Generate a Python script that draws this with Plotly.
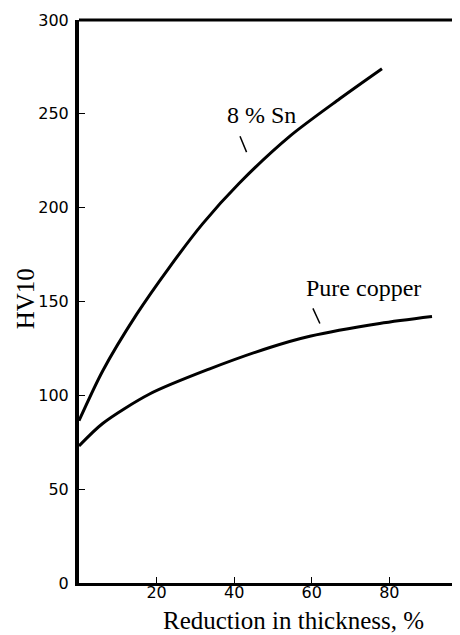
import plotly.graph_objects as go

# Data
sn_x = [0, 6.1, 14.8, 23.4, 31.9, 41.3, 54.3, 67.2, 78.1]
sn_y = [86.5, 113.0, 143.0, 168.5, 191.5, 213.0, 238.0, 258.0, 274.0]
cu_x = [0, 6.1, 18.2, 33.7, 49.2, 59.5, 77.5, 91.0]
cu_y = [73.0, 85.0, 100.7, 114.1, 125.5, 131.5, 138.3, 142.0]
x_ticks = [20, 40, 60, 80]
y_ticks = [0, 50, 100, 150, 200, 250, 300]

fig = go.Figure()
fig.add_trace(go.Scatter(x=sn_x, y=sn_y, mode="lines",
                         line=dict(color="black", width=3, shape="spline", smoothing=0.8),
                         showlegend=False))
fig.add_trace(go.Scatter(x=cu_x, y=cu_y, mode="lines",
                         line=dict(color="black", width=3, shape="spline", smoothing=0.8),
                         showlegend=False))

serif = "Liberation Serif"
sans = "DejaVu Sans"

fig.update_layout(
    width=460, height=635,
    margin=dict(l=71, r=10, t=12, b=60),
    paper_bgcolor="white", plot_bgcolor="white",
    xaxis=dict(range=[0, 97.7], tickvals=x_ticks, ticks="inside", ticklen=6,
               tickwidth=1, tickcolor="black", showgrid=False, zeroline=False,
               showline=True, linecolor="black", linewidth=3,
               tickfont=dict(family=sans, size=16, color="black"),
               ticklabelstandoff=-7, automargin=False),
    yaxis=dict(range=[0, 300], tickvals=y_ticks, ticks="inside", ticklen=6,
               tickwidth=1, tickcolor="black", showgrid=False, zeroline=False,
               showline=True, linecolor="black", linewidth=4,
               tickfont=dict(family=sans, size=16, color="black"),
               ticklabelstandoff=3, automargin=False),
    shapes=[
        dict(type="line", xref="x domain", yref="y domain", x0=0, x1=1, y0=1, y1=1,
             line=dict(color="black", width=3)),
        dict(type="line", xref="x domain", yref="y domain", x0=1, x1=1, y0=0, y1=1,
             line=dict(color="#444", width=1)),
        dict(type="line", xref="x", yref="y", x0=41.5, y0=238.1, x1=43.2, y1=229.6,
             line=dict(color="black", width=1.5)),
        dict(type="line", xref="x", yref="y", x0=60.3, y0=146.3, x1=62.1, y1=138.3,
             line=dict(color="black", width=1.5)),
    ],
    annotations=[
        dict(text="8 % Sn", x=47.1, y=249.3, xref="x", yref="y", showarrow=False,
             font=dict(family=serif, size=24, color="black")),
        dict(text="Pure copper", x=73.4, y=157, xref="x", yref="y", showarrow=False,
             font=dict(family=serif, size=24, color="black")),
        dict(text="Reduction in thickness, %", x=0.567, y=0, xref="paper", yref="paper",
             yanchor="middle", yshift=-37, showarrow=False,
             font=dict(family=serif, size=25, color="black")),
        dict(text="HV10", x=0, y=0.504, xref="paper", yref="paper", xanchor="center",
             yanchor="middle", xshift=-54, textangle=-90, showarrow=False,
             font=dict(family=serif, size=25, color="black")),
    ],
)

fig.write_html("out.html")
